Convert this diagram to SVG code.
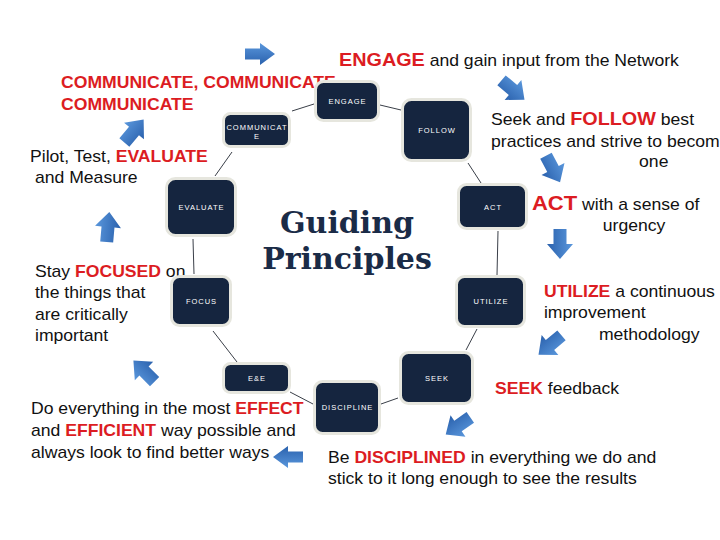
<svg xmlns="http://www.w3.org/2000/svg" width="720" height="540" viewBox="0 0 720 540">
<style>
.t{font-family:"Liberation Sans",Arial,sans-serif;font-size:16px;fill:#111}
.r{font-weight:bold;fill:#dc1c22}
.nd rect{fill:#15253f;stroke:#e6e6de;stroke-width:3}
.nl{font-family:"Liberation Sans",Arial,sans-serif;font-size:7.5px;letter-spacing:1px;fill:#fff;text-anchor:middle}
.cn line{stroke:#3a3f48;stroke-width:1}
.ttl{font-family:"DejaVu Serif","Liberation Serif",serif;font-weight:bold;font-size:30px;fill:#1a2b47;text-anchor:middle}
</style>
<defs>
<linearGradient id="bg" x1="0" y1="0" x2="0" y2="1">
<stop offset="0" stop-color="#5a97dc"/>
<stop offset="1" stop-color="#2a61ad"/>
</linearGradient>
<path id="arr" d="M-15,-6.5 H0 V-13 L15,0 L0,13 V6.5 H-15 Z" fill="url(#bg)"/>
</defs>
<rect width="720" height="540" fill="#fff"/>

<g id="connectors" class="cn">
<line x1="292" y1="111" x2="314" y2="104"/>
<line x1="380" y1="105" x2="401" y2="110"/>
<line x1="232" y1="152" x2="215" y2="176"/>
<line x1="468" y1="163" x2="481" y2="183"/>
<line x1="193" y1="239" x2="194" y2="274"/>
<line x1="498" y1="231" x2="497" y2="275"/>
<line x1="213" y1="331" x2="237" y2="362"/>
<line x1="477" y1="329" x2="466" y2="350"/>
<line x1="398" y1="398" x2="381" y2="404"/>
<line x1="290" y1="392" x2="313" y2="404"/>
</g>

<g id="arrows">
<use href="#arr" transform="translate(260,54) scale(1,0.85)"/>
<use href="#arr" transform="translate(513,90) rotate(40)"/>
<use href="#arr" transform="translate(553,169) rotate(62)"/>
<use href="#arr" transform="translate(560,244) rotate(90)"/>
<use href="#arr" transform="translate(550,345) rotate(140)"/>
<use href="#arr" transform="translate(458,426) rotate(145)"/>
<use href="#arr" transform="translate(288,457) rotate(180) scale(1,0.85)"/>
<use href="#arr" transform="translate(144,371) rotate(-135)"/>
<use href="#arr" transform="translate(108,227) rotate(-85)"/>
<use href="#arr" transform="translate(134,131) rotate(-50)"/>
</g>

<g id="texts" transform="scale(1.1,1)">
<text class="t" x="308.2" y="66"><tspan class="r" font-size="18">ENGAGE</tspan> and gain input from the Network</text>
<text class="t r" x="55.5" y="88">COMMUNICATE, COMMUNICATE</text>
<text class="t r" x="55.5" y="110">COMMUNICATE</text>
<text class="t" x="27.3" y="162">Pilot, Test, <tspan class="r">EVALUATE</tspan></text>
<text class="t" x="31.8" y="183">and Measure</text>
<text class="t" x="31.8" y="277">Stay <tspan class="r">FOCUSED</tspan> on</text>
<text class="t" x="31.8" y="298">the things that</text>
<text class="t" x="31.8" y="320">are critically</text>
<text class="t" x="31.8" y="341">important</text>
<text class="t" x="446.4" y="125">Seek and <tspan class="r" font-size="18">FOLLOW</tspan> best</text>
<text class="t" x="446.4" y="147">practices and strive to becom</text>
<text class="t" x="581" y="167">one</text>
<text class="t" x="483.6" y="210"><tspan class="r" font-size="20">ACT</tspan> with a sense of</text>
<text class="t" x="548" y="231">urgency</text>
<text class="t" x="494.5" y="297"><tspan class="r">UTILIZE</tspan> a continuous</text>
<text class="t" x="494.5" y="318">improvement</text>
<text class="t" x="544.5" y="340">methodology</text>
<text class="t" x="450" y="394"><tspan class="r">SEEK</tspan> feedback</text>
<text class="t" x="298.2" y="463">Be <tspan class="r">DISCIPLINED</tspan> in everything we do and</text>
<text class="t" x="298.2" y="484">stick to it long enough to see the results</text>
<text class="t" x="28.2" y="414">Do everything in the most <tspan class="r">EFFECT</tspan></text>
<text class="t" x="28.2" y="436">and <tspan class="r">EFFICIENT</tspan> way possible and</text>
<text class="t" x="28.2" y="458">always look to find better ways</text>
</g>

<g id="title">
<text class="ttl" x="347" y="233">Guiding</text>
<text class="ttl" x="347" y="269">Principles</text>
</g>

<g id="node-engage" class="nd"><rect x="315.5" y="81.5" width="63" height="39" rx="8"/><text class="nl" x="347.5" y="104">ENGAGE</text></g>
<g id="node-communicate" class="nd"><rect x="223.5" y="113.5" width="66" height="33" rx="7"/><text class="nl" x="257" y="129.5">COMMUNICAT</text><text class="nl" x="257" y="139">E</text></g>
<g id="node-follow" class="nd"><rect x="402.5" y="99.5" width="68" height="61" rx="9"/><text class="nl" x="437" y="133">FOLLOW</text></g>
<g id="node-evaluate" class="nd"><rect x="166.5" y="178.5" width="69" height="57" rx="9"/><text class="nl" x="201.5" y="210">EVALUATE</text></g>
<g id="node-focus" class="nd"><rect x="171.5" y="276.5" width="59" height="49" rx="8"/><text class="nl" x="201.5" y="304">FOCUS</text></g>
<g id="node-act" class="nd"><rect x="458.5" y="184.5" width="68" height="44" rx="8"/><text class="nl" x="493" y="210">ACT</text></g>
<g id="node-utilize" class="nd"><rect x="456.5" y="276.5" width="68" height="50" rx="8"/><text class="nl" x="491" y="304">UTILIZE</text></g>
<g id="node-seek" class="nd"><rect x="400.5" y="352.5" width="72" height="51" rx="8"/><text class="nl" x="437" y="381">SEEK</text></g>
<g id="node-discipline" class="nd"><rect x="314.5" y="381.5" width="65" height="52" rx="8"/><text class="nl" x="347.5" y="410">DISCIPLINE</text></g>
<g id="node-ee" class="nd"><rect x="223.5" y="363.5" width="66" height="29" rx="7"/><text class="nl" x="257" y="381">E&amp;E</text></g>
</svg>
